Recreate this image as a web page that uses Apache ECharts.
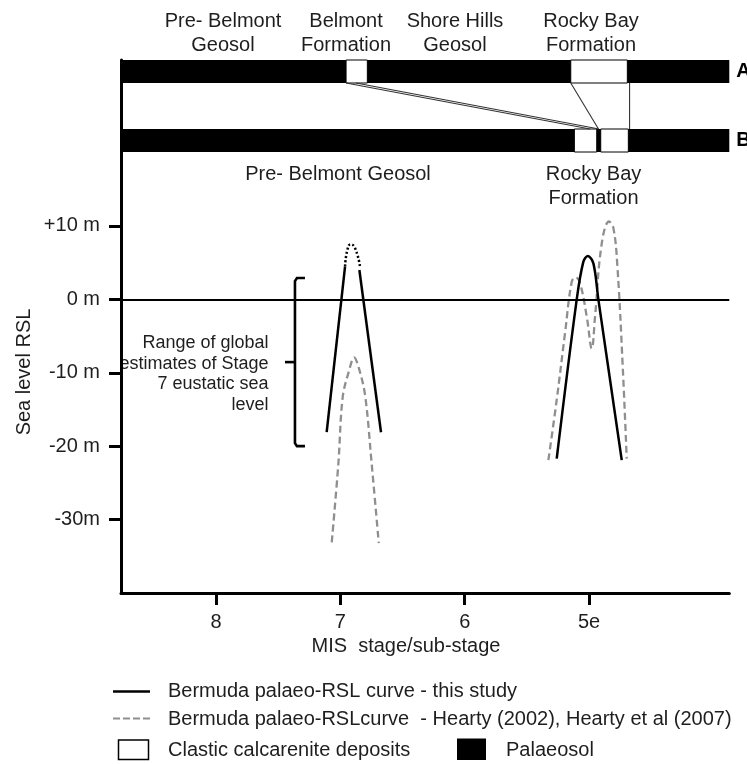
<!DOCTYPE html>
<html><head><meta charset="utf-8">
<script src="https://cdn.jsdelivr.net/npm/echarts@6/dist/echarts.min.js"></script>
<style>html,body{margin:0;padding:0;background:#fff}#c{width:747px;height:764px}</style>
</head><body><div id="c"></div>
<script>
const FONT = '"Liberation Sans", Arial, Helvetica, sans-serif';
const TXT = '#1e1e1e';

// ---- axes ----
const misTicks = [8, 7, 6, 5];
const misTickLabels = ['8', '7', '6', '5e'];
const rslTicks = [10, 0, -10, -20, -30];
const rslTickLabels = ['+10 m', '0 m', '-10 m', '-20 m', '-30m'];
const misExtent = [3.872, 8.764];
const rslExtent = [-40, 32.6];

// ---- sea-level curves (MIS stage, RSL m) ----
const thisStudy7Left = [[7.110, -18.1], [6.962, 4.5]];
const thisStudy7Top = [[6.962, 4.5], [6.944, 6.7], [6.917, 7.5], [6.882, 7.0], [6.842, 4.5]];
const thisStudy7Right = [[6.847, 4.0], [6.673, -18.1]];
const thisStudy5e = [[5.260, -21.7], [5.099, 0], [5.046, 5.1], [5.010, 5.9], [4.965, 4.9], [4.925, 0], [4.737, -21.9]];
const hearty7 = [[7.069, -33.1], [7.016, -22.4], [6.981, -13.3], [6.928, -9.6], [6.890, -7.9], [6.847, -9.6], [6.799, -13.3], [6.748, -22.4], [6.691, -33.2]];
const hearty5e = [[5.327, -21.9], [5.260, -13.7], [5.193, -4.6], [5.139, 2.4], [5.107, 3.0], [5.072, 2.2], [5.018, -2.4], [4.978, -6.7], [4.952, -2.4], [4.898, 7.6], [4.839, 10.6], [4.804, 9.7], [4.772, 4.5], [4.729, -9.2], [4.697, -21.7]];
// global Stage 7 eustatic range: [MIS position, low, high]
const stage7Range = [[7.365, -20.0, 2.9]];

// ---- stratigraphic sections A / B ----
const strataRows = ['A', 'B'];
const palaeosol = [['A', 8.764, 3.872], ['B', 8.764, 3.872]];
const calcarenite = [['A', 6.954, 6.783], ['A', 5.147, 4.692], ['B', 5.118, 4.938], ['B', 4.906, 4.684]];
const correlations = [[6.954, 4.992], [6.874, 4.920], [5.147, 4.924], [4.674, 4.674]];

// row layout (y value in the section grid)
const rowCenter = { A: 3.5, B: 0.5 };

const chart = echarts.init(document.getElementById('c'), null, { renderer: 'canvas' });

function bandRenderer(fill, stroke) {
  return function (params, api) {
    const yc = api.value(0), x0 = api.value(1), x1 = api.value(2);
    const a = api.coord([x0, yc + 0.5]);
    const b = api.coord([x1, yc - 0.5]);
    return {
      type: 'rect',
      shape: { x: Math.min(a[0], b[0]), y: Math.min(a[1], b[1]), width: Math.abs(b[0] - a[0]), height: Math.abs(b[1] - a[1]) },
      style: { fill: fill, stroke: stroke || null, lineWidth: stroke ? 1 : 0 }
    };
  };
}

const blackLine = { color: '#000', width: 2.5 };
const greyDash = { color: '#8f8f8f', width: 2.3, type: [7, 4] };

const option = {
  animation: false,
  backgroundColor: '#fff',
  textStyle: { fontFamily: FONT },
  grid: [
    { left: 121, right: 17.7, top: 60, bottom: 171, outerBoundsMode: 'none', containLabel: false },
    { left: 121, right: 17.7, top: 60, height: 92, outerBoundsMode: 'none', containLabel: false }
  ],
  xAxis: [
    {
      type: 'value', gridIndex: 0, min: misExtent[0], max: misExtent[1], inverse: true,
      axisLine: { onZero: false, lineStyle: { color: '#000', width: 3 } },
      axisTick: { customValues: misTicks, length: 12, lineStyle: { color: '#000', width: 3 } },
      axisLabel: {
        customValues: misTicks, margin: 19, fontSize: 20, color: TXT, fontFamily: FONT,
        formatter: v => misTickLabels[misTicks.indexOf(v)]
      },
      splitLine: { show: false }
    },
    {
      type: 'value', gridIndex: 1, min: misExtent[0], max: misExtent[1], inverse: true, show: false
    }
  ],
  yAxis: [
    {
      type: 'value', gridIndex: 0, min: rslExtent[0], max: rslExtent[1],
      axisLine: { onZero: false, lineStyle: { color: '#000', width: 3 } },
      axisTick: { customValues: rslTicks, length: 12, lineStyle: { color: '#000', width: 3 } },
      axisLabel: {
        customValues: rslTicks, margin: 21, fontSize: 20, color: TXT, fontFamily: FONT,
        formatter: v => rslTickLabels[rslTicks.indexOf(v)]
      },
      splitLine: { show: false }
    },
    {
      type: 'value', gridIndex: 1, min: 0, max: 4, position: 'right',
      axisLine: { show: false }, axisTick: { show: false }, splitLine: { show: false },
      axisLabel: {
        customValues: strataRows.map(r => rowCenter[r]), margin: 7, fontSize: 20, fontWeight: 'bold',
        color: '#000', fontFamily: FONT,
        formatter: v => strataRows.find(r => rowCenter[r] === v)
      }
    }
  ],
  series: [
    {
      type: 'line', xAxisIndex: 0, yAxisIndex: 0, data: thisStudy7Left, showSymbol: false, lineStyle: blackLine, z: 5,
      markLine: {
        silent: true, symbol: ['none', 'none'], label: { show: false },
        lineStyle: { color: '#000', width: 2, type: 'solid' }, data: [{ yAxis: 0 }]
      }
    },
    { type: 'line', data: thisStudy7Top, showSymbol: false, smooth: 0.5, lineStyle: { color: '#000', width: 2.5, type: [2, 2.2] }, z: 5 },
    { type: 'line', data: thisStudy7Right, showSymbol: false, lineStyle: blackLine, z: 5 },
    { type: 'line', data: thisStudy5e, showSymbol: false, smooth: 0.35, lineStyle: blackLine, z: 5 },
    { type: 'line', data: hearty7, showSymbol: false, smooth: 0.35, lineStyle: greyDash, z: 4 },
    { type: 'line', data: hearty5e, showSymbol: false, smooth: 0.4, lineStyle: greyDash, z: 4 },
    {
      type: 'custom', xAxisIndex: 0, yAxisIndex: 0, data: stage7Range, z: 5,
      renderItem: function (params, api) {
        const top = api.coord([api.value(0), api.value(2)]);
        const bot = api.coord([api.value(0), api.value(1)]);
        const x = top[0], mid = (top[1] + bot[1]) / 2;
        return {
          type: 'group', children: [
            { type: 'polyline', shape: { points: [[x + 10, top[1]], [x + 2, top[1]], [x, top[1] + 3], [x, bot[1] - 3], [x + 2, bot[1]], [x + 10, bot[1]]] },
              style: { stroke: '#000', lineWidth: 2.6, fill: null } },
            { type: 'line', shape: { x1: x - 10, y1: mid, x2: x, y2: mid }, style: { stroke: '#000', lineWidth: 2.6 } }
          ]
        };
      }
    },
    {
      type: 'custom', xAxisIndex: 1, yAxisIndex: 1, z: 2,
      data: palaeosol.map(d => [rowCenter[d[0]], d[1], d[2]]),
      renderItem: bandRenderer('#000')
    },
    {
      type: 'custom', xAxisIndex: 1, yAxisIndex: 1, z: 3,
      data: calcarenite.map(d => [rowCenter[d[0]], d[1], d[2]]),
      renderItem: bandRenderer('#fff', '#000')
    },
    {
      type: 'custom', xAxisIndex: 1, yAxisIndex: 1, z: 3,
      data: correlations,
      renderItem: function (params, api) {
        const a = api.coord([api.value(0), rowCenter.A - 0.5]);
        const b = api.coord([api.value(1), rowCenter.B + 0.5]);
        return { type: 'line', shape: { x1: a[0], y1: a[1], x2: b[0], y2: b[1] }, style: { stroke: '#333', lineWidth: 1.1 } };
      }
    }
  ],
  graphic: [
    // section labels
    { type: 'text', style: { text: 'Pre- Belmont\nGeosol', x: 223, y: 33, textAlign: 'center', textVerticalAlign: 'middle', fontSize: 20, lineHeight: 24, fontFamily: FONT, fill: TXT } },
    { type: 'text', style: { text: 'Belmont\nFormation', x: 346, y: 33, textAlign: 'center', textVerticalAlign: 'middle', fontSize: 20, lineHeight: 24, fontFamily: FONT, fill: TXT } },
    { type: 'text', style: { text: 'Shore Hills\nGeosol', x: 455, y: 33, textAlign: 'center', textVerticalAlign: 'middle', fontSize: 20, lineHeight: 24, fontFamily: FONT, fill: TXT } },
    { type: 'text', style: { text: 'Rocky Bay\nFormation', x: 591, y: 33, textAlign: 'center', textVerticalAlign: 'middle', fontSize: 20, lineHeight: 24, fontFamily: FONT, fill: TXT } },
    // plot annotations
    { type: 'text', style: { text: 'Pre- Belmont Geosol', x: 338, y: 174, textAlign: 'center', textVerticalAlign: 'middle', fontSize: 20, fontFamily: FONT, fill: TXT } },
    { type: 'text', style: { text: 'Rocky Bay\nFormation', x: 593.5, y: 186, textAlign: 'center', textVerticalAlign: 'middle', fontSize: 20, lineHeight: 24, fontFamily: FONT, fill: TXT } },
    { type: 'text', style: { text: 'Range of global\nestimates of Stage\n7 eustatic sea\nlevel', x: 268.5, y: 374, textAlign: 'right', textVerticalAlign: 'middle', fontSize: 18, lineHeight: 20.8, fontFamily: FONT, fill: TXT } },
    // axis names
    { type: 'text', rotation: Math.PI / 2, x: 24, y: 372, style: { text: 'Sea level RSL', x: 0, y: 0, textAlign: 'center', textVerticalAlign: 'middle', fontSize: 20, fontFamily: FONT, fill: TXT } },
    { type: 'text', style: { text: 'MIS  stage/sub-stage', x: 406, y: 646, textAlign: 'center', textVerticalAlign: 'middle', fontSize: 20, fontFamily: FONT, fill: TXT } },
    // legend
    { type: 'line', shape: { x1: 113, y1: 691.5, x2: 150, y2: 691.5 }, style: { stroke: '#000', lineWidth: 2.5 } },
    { type: 'text', style: { text: 'Bermuda palaeo-RSL curve - this study', x: 168, y: 691, textAlign: 'left', textVerticalAlign: 'middle', fontSize: 20, fontFamily: FONT, fill: TXT } },
    { type: 'line', shape: { x1: 113, y1: 718.5, x2: 150, y2: 718.5 }, style: { stroke: '#8f8f8f', lineWidth: 2, lineDash: [7, 3] } },
    { type: 'text', style: { text: 'Bermuda palaeo-RSLcurve  - Hearty (2002), Hearty et al (2007)', x: 168, y: 719, textAlign: 'left', textVerticalAlign: 'middle', fontSize: 20, fontFamily: FONT, fill: TXT } },
    { type: 'rect', shape: { x: 118.5, y: 740, width: 30, height: 19.5 }, style: { fill: '#fff', stroke: '#000', lineWidth: 1.5 } },
    { type: 'text', style: { text: 'Clastic calcarenite deposits', x: 168, y: 750, textAlign: 'left', textVerticalAlign: 'middle', fontSize: 20, fontFamily: FONT, fill: TXT } },
    { type: 'rect', shape: { x: 457, y: 738.5, width: 29, height: 21.5 }, style: { fill: '#000' } },
    { type: 'text', style: { text: 'Palaeosol', x: 506, y: 750, textAlign: 'left', textVerticalAlign: 'middle', fontSize: 20, fontFamily: FONT, fill: TXT } }
  ]
};
chart.setOption(option);
</script>
</body></html>
